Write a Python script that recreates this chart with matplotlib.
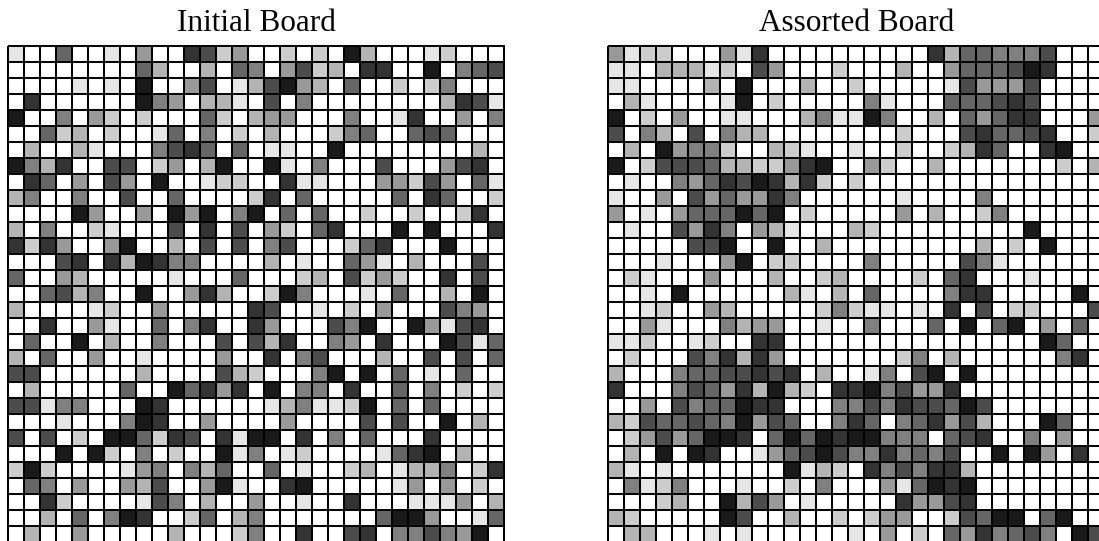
import numpy as np
import matplotlib
matplotlib.use("Agg")
import matplotlib.pyplot as plt

# gray level of each cell: 0 = white ... 9 = near black
initial_rows = [
    "1006001040087240" "020209300012000",
    "0000000063003065" "047230880090567",
    "0000101090047013" "794306002025000",
    "0800000095403310" "705000000003871",
    "9005042020006203" "440005001800405",
    "0062302001605020" "300025600676000",
    "0300310005786060" "110090000000030",
    "9538007702403900" "910500070004780",
    "0860407409001220" "081100044274061",
    "3500500700600002" "806000006086002",
    "0000940040949059" "060600200200280",
    "3050021000708070" "420680009090008",
    "8284004900307070" "570002680009000",
    "0007808398550000" "301006410300070",
    "6004300000100060" "002307242008070",
    "0067350090048300" "295000106003090",
    "3000012004000008" "700102040007540",
    "0080041006058008" "400075900941780",
    "0600903005000707" "380054080009716",
    "3060040010000400" "805700030070706",
    "7700000030000732" "000590906010600",
    "030000060096848" "0905508006050202",
    "7715500098000000" "135112906060000",
    "0001000598004000" "040000707009030",
    "7070209962870819" "908050600080000",
    "0009092050200915" "012000016890300",
    "2920000145053600" "601002301335028",
    "0650400437004910" "089000001404020",
    "0082000017503004" "001008000111403",
    "0030605980026035" "000000069940016",
    "0300400000300025" "008007805575490",
]

assorted_rows = [
    "4122000418000000" "000083665557000",
    "1103331207400020" "003004666798000",
    "1100003090003002" "000001744470000",
    "0310000190200000" "510006667870000",
    "9020400110003511" "950030646880004",
    "7053070533000000" "002000786678002",
    "0309455200321001" "002002386008900",
    "9027776332248900" "420030000000203",
    "0100546879838202" "000000000000000",
    "1004074644850000" "001000050000000",
    "4010466696902000" "004030025000000",
    "0100748504310003" "200000000090000",
    "0000077900900300" "000000030209000",
    "0001000490220000" "500000751000000",
    "0210004000300230" "000206800010000",
    "0010900000031030" "600005880000090",
    "0012004300000252" "110108070220007",
    "0041000534400100" "500060906904060",
    "1120012008800000" "000000000009600",
    "0200075838400000" "002503000000580",
    "3000566778780300" "150790900000000",
    "8000576483932088" "957448000000000",
    "0040756698800055" "758776970000000",
    "3276676594760058" "605684730009600",
    "0247469980696989" "955506780050400",
    "0309098001467975" "585657009094080",
    "3101000000091320" "857588300000000",
    "0512500010020500" "041698900000000",
    "0002300937401000" "008447800000000",
    "3200000970030020" "244002769906900",
    "0330001010000001" "040206485675097",
]

titles = ["Initial Board", "Assorted Board"]


def to_grid(rows):
    return np.array([[int(c) for c in r] for r in rows])


boards = [to_grid(initial_rows), to_grid(assorted_rows)]

W, H = 1099, 541
fig = plt.figure(figsize=(W / 100, H / 100), dpi=100)

# board boxes in pixels (left, top), 496 px square, image crops the edges
box_px = 496.0
lefts = [8.3, 608.3]
top = 45.7

for board, title, left in zip(boards, titles, lefts):
    n = board.shape[0]
    ax = fig.add_axes([left / W, (H - top - box_px) / H, box_px / W, box_px / H])
    mesh = ax.pcolormesh(board, cmap="gray_r", vmin=0, vmax=10,
                         edgecolors="black", linewidth=1.4)
    mesh.set_clip_on(False)
    ax.set_xlim(0, board.shape[1])
    ax.set_ylim(n, 0)
    ax.axis("off")
    fig.text((left + box_px / 2) / W, 1 - 31.0 / H, title, ha="center",
             va="baseline", fontsize=22.5, family="Liberation Serif")

plt.savefig("out.png", dpi=100)
